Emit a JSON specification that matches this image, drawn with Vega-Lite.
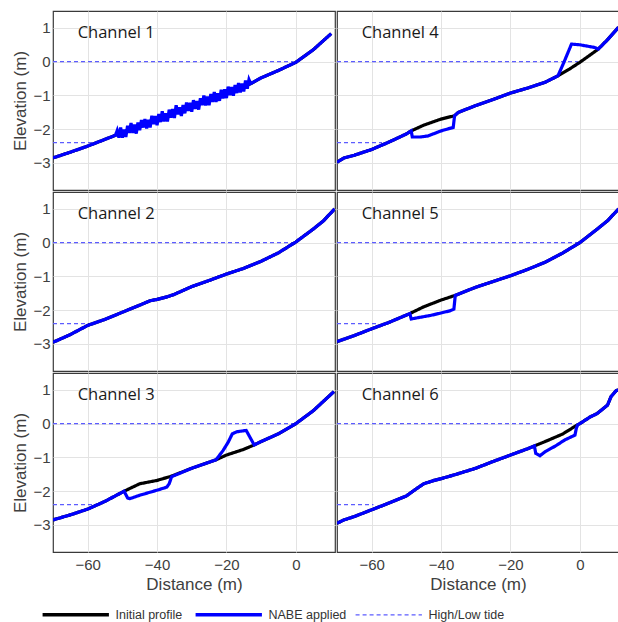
{
"$schema": "https://vega.github.io/schema/vega-lite/v6.json",
"padding": {"left": 11, "top": 10, "right": 0, "bottom": 0},
"background": "white",
"data": {"values": [
{"ch":"Channel 1","s":"Initial profile","x":-70,"y":-2.85},{"ch":"Channel 1","s":"Initial profile","x":-65,"y":-2.68},{"ch":"Channel 1","s":"Initial profile","x":-60,"y":-2.5},{"ch":"Channel 1","s":"Initial profile","x":-55,"y":-2.3},{"ch":"Channel 1","s":"Initial profile","x":-52,"y":-2.18},{"ch":"Channel 1","s":"Initial profile","x":-50,"y":-2.1},{"ch":"Channel 1","s":"Initial profile","x":-45,"y":-1.88},{"ch":"Channel 1","s":"Initial profile","x":-40,"y":-1.69},{"ch":"Channel 1","s":"Initial profile","x":-35,"y":-1.5},{"ch":"Channel 1","s":"Initial profile","x":-30,"y":-1.32},{"ch":"Channel 1","s":"Initial profile","x":-25,"y":-1.13},{"ch":"Channel 1","s":"Initial profile","x":-20,"y":-0.93},{"ch":"Channel 1","s":"Initial profile","x":-15,"y":-0.73},{"ch":"Channel 1","s":"Initial profile","x":-13,"y":-0.65},{"ch":"Channel 1","s":"Initial profile","x":-10,"y":-0.48},{"ch":"Channel 1","s":"Initial profile","x":-5,"y":-0.26},{"ch":"Channel 1","s":"Initial profile","x":0,"y":-0.02},{"ch":"Channel 1","s":"Initial profile","x":5,"y":0.35},{"ch":"Channel 1","s":"Initial profile","x":10.2,"y":0.83},
{"ch":"Channel 1","s":"NABE applied","x":-70,"y":-2.85},{"ch":"Channel 1","s":"NABE applied","x":-65,"y":-2.68},{"ch":"Channel 1","s":"NABE applied","x":-60,"y":-2.5},{"ch":"Channel 1","s":"NABE applied","x":-55,"y":-2.3},{"ch":"Channel 1","s":"NABE applied","x":-52,"y":-2.18},
{"ch":"Channel 1","s":"NABE applied","x":-51.5,"y":-2.04},{"ch":"Channel 1","s":"NABE applied","x":-51,"y":-2.25},{"ch":"Channel 1","s":"NABE applied","x":-50.5,"y":-1.95},{"ch":"Channel 1","s":"NABE applied","x":-50,"y":-2.25},{"ch":"Channel 1","s":"NABE applied","x":-49.5,"y":-2.01},{"ch":"Channel 1","s":"NABE applied","x":-49,"y":-2.23},{"ch":"Channel 1","s":"NABE applied","x":-48.5,"y":-1.9},{"ch":"Channel 1","s":"NABE applied","x":-48,"y":-2.11},{"ch":"Channel 1","s":"NABE applied","x":-47.5,"y":-1.82},{"ch":"Channel 1","s":"NABE applied","x":-47,"y":-2.11},{"ch":"Channel 1","s":"NABE applied","x":-46.5,"y":-1.86},{"ch":"Channel 1","s":"NABE applied","x":-46,"y":-2.13},{"ch":"Channel 1","s":"NABE applied","x":-45.5,"y":-1.8},{"ch":"Channel 1","s":"NABE applied","x":-45,"y":-2.03},{"ch":"Channel 1","s":"NABE applied","x":-44.5,"y":-1.73},{"ch":"Channel 1","s":"NABE applied","x":-44,"y":-1.95},{"ch":"Channel 1","s":"NABE applied","x":-43.5,"y":-1.7},{"ch":"Channel 1","s":"NABE applied","x":-43,"y":-1.98},{"ch":"Channel 1","s":"NABE applied","x":-42.5,"y":-1.72},{"ch":"Channel 1","s":"NABE applied","x":-42,"y":-1.95},{"ch":"Channel 1","s":"NABE applied","x":-41.5,"y":-1.6},{"ch":"Channel 1","s":"NABE applied","x":-41,"y":-1.85},{"ch":"Channel 1","s":"NABE applied","x":-40.5,"y":-1.61},{"ch":"Channel 1","s":"NABE applied","x":-40,"y":-1.88},{"ch":"Channel 1","s":"NABE applied","x":-39.5,"y":-1.55},{"ch":"Channel 1","s":"NABE applied","x":-39,"y":-1.79},{"ch":"Channel 1","s":"NABE applied","x":-38.5,"y":-1.47},{"ch":"Channel 1","s":"NABE applied","x":-38,"y":-1.77},{"ch":"Channel 1","s":"NABE applied","x":-37.5,"y":-1.53},{"ch":"Channel 1","s":"NABE applied","x":-37,"y":-1.77},{"ch":"Channel 1","s":"NABE applied","x":-36.5,"y":-1.42},{"ch":"Channel 1","s":"NABE applied","x":-36,"y":-1.66},{"ch":"Channel 1","s":"NABE applied","x":-35.5,"y":-1.4},{"ch":"Channel 1","s":"NABE applied","x":-35,"y":-1.67},{"ch":"Channel 1","s":"NABE applied","x":-34.5,"y":-1.29},{"ch":"Channel 1","s":"NABE applied","x":-34,"y":-1.56},{"ch":"Channel 1","s":"NABE applied","x":-33.5,"y":-1.35},{"ch":"Channel 1","s":"NABE applied","x":-33,"y":-1.61},{"ch":"Channel 1","s":"NABE applied","x":-32.5,"y":-1.28},{"ch":"Channel 1","s":"NABE applied","x":-32,"y":-1.53},{"ch":"Channel 1","s":"NABE applied","x":-31.5,"y":-1.21},{"ch":"Channel 1","s":"NABE applied","x":-31,"y":-1.46},{"ch":"Channel 1","s":"NABE applied","x":-30.5,"y":-1.22},{"ch":"Channel 1","s":"NABE applied","x":-30,"y":-1.48},{"ch":"Channel 1","s":"NABE applied","x":-29.5,"y":-1.14},{"ch":"Channel 1","s":"NABE applied","x":-29,"y":-1.4},{"ch":"Channel 1","s":"NABE applied","x":-28.5,"y":-1.17},{"ch":"Channel 1","s":"NABE applied","x":-28,"y":-1.42},{"ch":"Channel 1","s":"NABE applied","x":-27.5,"y":-1.08},{"ch":"Channel 1","s":"NABE applied","x":-27,"y":-1.29},{"ch":"Channel 1","s":"NABE applied","x":-26.5,"y":-1.0},{"ch":"Channel 1","s":"NABE applied","x":-26,"y":-1.3},{"ch":"Channel 1","s":"NABE applied","x":-25.5,"y":-1.03},{"ch":"Channel 1","s":"NABE applied","x":-25,"y":-1.29},{"ch":"Channel 1","s":"NABE applied","x":-24.5,"y":-0.96},{"ch":"Channel 1","s":"NABE applied","x":-24,"y":-1.19},{"ch":"Channel 1","s":"NABE applied","x":-23.5,"y":-0.9},{"ch":"Channel 1","s":"NABE applied","x":-23,"y":-1.19},{"ch":"Channel 1","s":"NABE applied","x":-22.5,"y":-0.94},{"ch":"Channel 1","s":"NABE applied","x":-22,"y":-1.16},{"ch":"Channel 1","s":"NABE applied","x":-21.5,"y":-0.83},{"ch":"Channel 1","s":"NABE applied","x":-21,"y":-1.09},{"ch":"Channel 1","s":"NABE applied","x":-20.5,"y":-0.82},{"ch":"Channel 1","s":"NABE applied","x":-20,"y":-1.08},{"ch":"Channel 1","s":"NABE applied","x":-19.5,"y":-0.74},{"ch":"Channel 1","s":"NABE applied","x":-19,"y":-0.99},{"ch":"Channel 1","s":"NABE applied","x":-18.5,"y":-0.75},{"ch":"Channel 1","s":"NABE applied","x":-18,"y":-1.01},{"ch":"Channel 1","s":"NABE applied","x":-17.5,"y":-0.69},{"ch":"Channel 1","s":"NABE applied","x":-17,"y":-0.93},{"ch":"Channel 1","s":"NABE applied","x":-16.5,"y":-0.63},{"ch":"Channel 1","s":"NABE applied","x":-16,"y":-0.91},{"ch":"Channel 1","s":"NABE applied","x":-15.5,"y":-0.65},{"ch":"Channel 1","s":"NABE applied","x":-15,"y":-0.88},{"ch":"Channel 1","s":"NABE applied","x":-14.5,"y":-0.56},{"ch":"Channel 1","s":"NABE applied","x":-14,"y":-0.8},{"ch":"Channel 1","s":"NABE applied","x":-13.5,"y":-0.53},
{"ch":"Channel 1","s":"NABE applied","x":-13,"y":-0.65},{"ch":"Channel 1","s":"NABE applied","x":-10,"y":-0.48},{"ch":"Channel 1","s":"NABE applied","x":-5,"y":-0.26},{"ch":"Channel 1","s":"NABE applied","x":0,"y":-0.02},{"ch":"Channel 1","s":"NABE applied","x":5,"y":0.35},{"ch":"Channel 1","s":"NABE applied","x":10.2,"y":0.83},
{"ch":"Channel 1","s":"High/Low tide","seg":"hi","x":-70,"y":0},{"ch":"Channel 1","s":"High/Low tide","seg":"hi","x":-0.8,"y":0},{"ch":"Channel 1","s":"High/Low tide","seg":"lo","x":-70,"y":-2.4},{"ch":"Channel 1","s":"High/Low tide","seg":"lo","x":-57.5,"y":-2.4},

{"ch":"Channel 2","s":"Initial profile","x":-70,"y":-2.95},{"ch":"Channel 2","s":"Initial profile","x":-68,"y":-2.86},{"ch":"Channel 2","s":"Initial profile","x":-65,"y":-2.72},{"ch":"Channel 2","s":"Initial profile","x":-60,"y":-2.45},{"ch":"Channel 2","s":"Initial profile","x":-55,"y":-2.27},{"ch":"Channel 2","s":"Initial profile","x":-50,"y":-2.06},{"ch":"Channel 2","s":"Initial profile","x":-45,"y":-1.85},{"ch":"Channel 2","s":"Initial profile","x":-42,"y":-1.72},{"ch":"Channel 2","s":"Initial profile","x":-40,"y":-1.68},{"ch":"Channel 2","s":"Initial profile","x":-37,"y":-1.6},{"ch":"Channel 2","s":"Initial profile","x":-35,"y":-1.53},{"ch":"Channel 2","s":"Initial profile","x":-30,"y":-1.3},{"ch":"Channel 2","s":"Initial profile","x":-25,"y":-1.12},{"ch":"Channel 2","s":"Initial profile","x":-20,"y":-0.93},{"ch":"Channel 2","s":"Initial profile","x":-15,"y":-0.76},{"ch":"Channel 2","s":"Initial profile","x":-10,"y":-0.55},{"ch":"Channel 2","s":"Initial profile","x":-5,"y":-0.3},{"ch":"Channel 2","s":"Initial profile","x":0,"y":0.02},{"ch":"Channel 2","s":"Initial profile","x":5,"y":0.4},{"ch":"Channel 2","s":"Initial profile","x":8,"y":0.65},{"ch":"Channel 2","s":"Initial profile","x":11.2,"y":1.0},
{"ch":"Channel 2","s":"NABE applied","x":-70,"y":-2.95},{"ch":"Channel 2","s":"NABE applied","x":-68,"y":-2.86},{"ch":"Channel 2","s":"NABE applied","x":-65,"y":-2.72},{"ch":"Channel 2","s":"NABE applied","x":-60,"y":-2.45},{"ch":"Channel 2","s":"NABE applied","x":-55,"y":-2.27},{"ch":"Channel 2","s":"NABE applied","x":-50,"y":-2.06},{"ch":"Channel 2","s":"NABE applied","x":-45,"y":-1.85},{"ch":"Channel 2","s":"NABE applied","x":-42,"y":-1.72},{"ch":"Channel 2","s":"NABE applied","x":-40,"y":-1.68},{"ch":"Channel 2","s":"NABE applied","x":-37,"y":-1.6},{"ch":"Channel 2","s":"NABE applied","x":-35,"y":-1.53},{"ch":"Channel 2","s":"NABE applied","x":-30,"y":-1.3},{"ch":"Channel 2","s":"NABE applied","x":-25,"y":-1.12},{"ch":"Channel 2","s":"NABE applied","x":-20,"y":-0.93},{"ch":"Channel 2","s":"NABE applied","x":-15,"y":-0.76},{"ch":"Channel 2","s":"NABE applied","x":-10,"y":-0.55},{"ch":"Channel 2","s":"NABE applied","x":-5,"y":-0.3},{"ch":"Channel 2","s":"NABE applied","x":0,"y":0.02},{"ch":"Channel 2","s":"NABE applied","x":5,"y":0.4},{"ch":"Channel 2","s":"NABE applied","x":8,"y":0.65},{"ch":"Channel 2","s":"NABE applied","x":11.2,"y":1.0},
{"ch":"Channel 2","s":"High/Low tide","seg":"hi","x":-70,"y":0},{"ch":"Channel 2","s":"High/Low tide","seg":"hi","x":-0.5,"y":0},{"ch":"Channel 2","s":"High/Low tide","seg":"lo","x":-70,"y":-2.4},{"ch":"Channel 2","s":"High/Low tide","seg":"lo","x":-59,"y":-2.4},

{"ch":"Channel 3","s":"Initial profile","x":-70,"y":-2.85},{"ch":"Channel 3","s":"Initial profile","x":-65,"y":-2.7},{"ch":"Channel 3","s":"Initial profile","x":-60,"y":-2.53},{"ch":"Channel 3","s":"Initial profile","x":-55,"y":-2.3},{"ch":"Channel 3","s":"Initial profile","x":-49.5,"y":-2.0},{"ch":"Channel 3","s":"Initial profile","x":-45,"y":-1.78},{"ch":"Channel 3","s":"Initial profile","x":-40,"y":-1.68},{"ch":"Channel 3","s":"Initial profile","x":-36,"y":-1.56},{"ch":"Channel 3","s":"Initial profile","x":-30,"y":-1.32},{"ch":"Channel 3","s":"Initial profile","x":-23,"y":-1.07},{"ch":"Channel 3","s":"Initial profile","x":-20,"y":-0.93},{"ch":"Channel 3","s":"Initial profile","x":-15,"y":-0.76},{"ch":"Channel 3","s":"Initial profile","x":-12,"y":-0.63},{"ch":"Channel 3","s":"Initial profile","x":-10,"y":-0.53},{"ch":"Channel 3","s":"Initial profile","x":-5,"y":-0.3},{"ch":"Channel 3","s":"Initial profile","x":0,"y":0.0},{"ch":"Channel 3","s":"Initial profile","x":5,"y":0.38},{"ch":"Channel 3","s":"Initial profile","x":11,"y":0.95},
{"ch":"Channel 3","s":"NABE applied","x":-70,"y":-2.85},{"ch":"Channel 3","s":"NABE applied","x":-65,"y":-2.7},{"ch":"Channel 3","s":"NABE applied","x":-60,"y":-2.53},{"ch":"Channel 3","s":"NABE applied","x":-55,"y":-2.3},{"ch":"Channel 3","s":"NABE applied","x":-49.5,"y":-2.0},{"ch":"Channel 3","s":"NABE applied","x":-48.5,"y":-2.2},{"ch":"Channel 3","s":"NABE applied","x":-47.8,"y":-2.22},{"ch":"Channel 3","s":"NABE applied","x":-45,"y":-2.12},{"ch":"Channel 3","s":"NABE applied","x":-40,"y":-1.97},{"ch":"Channel 3","s":"NABE applied","x":-37.2,"y":-1.88},{"ch":"Channel 3","s":"NABE applied","x":-36.5,"y":-1.78},{"ch":"Channel 3","s":"NABE applied","x":-35.8,"y":-1.57},{"ch":"Channel 3","s":"NABE applied","x":-30,"y":-1.32},{"ch":"Channel 3","s":"NABE applied","x":-23,"y":-1.07},{"ch":"Channel 3","s":"NABE applied","x":-21,"y":-0.8},{"ch":"Channel 3","s":"NABE applied","x":-19.5,"y":-0.55},{"ch":"Channel 3","s":"NABE applied","x":-18.3,"y":-0.3},{"ch":"Channel 3","s":"NABE applied","x":-17,"y":-0.24},{"ch":"Channel 3","s":"NABE applied","x":-14.3,"y":-0.2},{"ch":"Channel 3","s":"NABE applied","x":-13.5,"y":-0.35},{"ch":"Channel 3","s":"NABE applied","x":-12,"y":-0.63},{"ch":"Channel 3","s":"NABE applied","x":-10,"y":-0.53},{"ch":"Channel 3","s":"NABE applied","x":-5,"y":-0.3},{"ch":"Channel 3","s":"NABE applied","x":0,"y":0.0},{"ch":"Channel 3","s":"NABE applied","x":5,"y":0.38},{"ch":"Channel 3","s":"NABE applied","x":11,"y":0.95},
{"ch":"Channel 3","s":"High/Low tide","seg":"hi","x":-70,"y":0},{"ch":"Channel 3","s":"High/Low tide","seg":"hi","x":-0.5,"y":0},{"ch":"Channel 3","s":"High/Low tide","seg":"lo","x":-70,"y":-2.4},{"ch":"Channel 3","s":"High/Low tide","seg":"lo","x":-58.5,"y":-2.4},

{"ch":"Channel 4","s":"Initial profile","x":-70,"y":-2.98},{"ch":"Channel 4","s":"Initial profile","x":-68,"y":-2.85},{"ch":"Channel 4","s":"Initial profile","x":-65,"y":-2.77},{"ch":"Channel 4","s":"Initial profile","x":-60,"y":-2.6},{"ch":"Channel 4","s":"Initial profile","x":-55,"y":-2.38},{"ch":"Channel 4","s":"Initial profile","x":-50,"y":-2.14},{"ch":"Channel 4","s":"Initial profile","x":-48.6,"y":-2.05},{"ch":"Channel 4","s":"Initial profile","x":-45,"y":-1.88},{"ch":"Channel 4","s":"Initial profile","x":-40,"y":-1.7},{"ch":"Channel 4","s":"Initial profile","x":-36.1,"y":-1.6},{"ch":"Channel 4","s":"Initial profile","x":-35,"y":-1.5},{"ch":"Channel 4","s":"Initial profile","x":-30,"y":-1.3},{"ch":"Channel 4","s":"Initial profile","x":-25,"y":-1.12},{"ch":"Channel 4","s":"Initial profile","x":-20,"y":-0.93},{"ch":"Channel 4","s":"Initial profile","x":-15,"y":-0.78},{"ch":"Channel 4","s":"Initial profile","x":-10,"y":-0.61},{"ch":"Channel 4","s":"Initial profile","x":-6.3,"y":-0.42},{"ch":"Channel 4","s":"Initial profile","x":-3,"y":-0.22},{"ch":"Channel 4","s":"Initial profile","x":0,"y":-0.02},{"ch":"Channel 4","s":"Initial profile","x":3,"y":0.2},{"ch":"Channel 4","s":"Initial profile","x":5.3,"y":0.37},{"ch":"Channel 4","s":"Initial profile","x":8,"y":0.65},{"ch":"Channel 4","s":"Initial profile","x":11.2,"y":1.02},
{"ch":"Channel 4","s":"NABE applied","x":-70,"y":-2.98},{"ch":"Channel 4","s":"NABE applied","x":-68,"y":-2.85},{"ch":"Channel 4","s":"NABE applied","x":-65,"y":-2.77},{"ch":"Channel 4","s":"NABE applied","x":-60,"y":-2.6},{"ch":"Channel 4","s":"NABE applied","x":-55,"y":-2.38},{"ch":"Channel 4","s":"NABE applied","x":-50,"y":-2.14},{"ch":"Channel 4","s":"NABE applied","x":-48.6,"y":-2.05},{"ch":"Channel 4","s":"NABE applied","x":-48.3,"y":-2.23},{"ch":"Channel 4","s":"NABE applied","x":-46,"y":-2.23},{"ch":"Channel 4","s":"NABE applied","x":-43.8,"y":-2.2},{"ch":"Channel 4","s":"NABE applied","x":-40,"y":-2.05},{"ch":"Channel 4","s":"NABE applied","x":-38,"y":-1.99},{"ch":"Channel 4","s":"NABE applied","x":-36.5,"y":-1.95},{"ch":"Channel 4","s":"NABE applied","x":-36.1,"y":-1.6},{"ch":"Channel 4","s":"NABE applied","x":-35,"y":-1.5},{"ch":"Channel 4","s":"NABE applied","x":-30,"y":-1.3},{"ch":"Channel 4","s":"NABE applied","x":-25,"y":-1.12},{"ch":"Channel 4","s":"NABE applied","x":-20,"y":-0.93},{"ch":"Channel 4","s":"NABE applied","x":-15,"y":-0.78},{"ch":"Channel 4","s":"NABE applied","x":-10,"y":-0.61},{"ch":"Channel 4","s":"NABE applied","x":-6.3,"y":-0.42},{"ch":"Channel 4","s":"NABE applied","x":-4.5,"y":0.0},{"ch":"Channel 4","s":"NABE applied","x":-2.4,"y":0.52},{"ch":"Channel 4","s":"NABE applied","x":0,"y":0.5},{"ch":"Channel 4","s":"NABE applied","x":4.3,"y":0.42},{"ch":"Channel 4","s":"NABE applied","x":5.3,"y":0.37},{"ch":"Channel 4","s":"NABE applied","x":8,"y":0.65},{"ch":"Channel 4","s":"NABE applied","x":11.2,"y":1.02},
{"ch":"Channel 4","s":"High/Low tide","seg":"hi","x":-70,"y":0},{"ch":"Channel 4","s":"High/Low tide","seg":"hi","x":-0.5,"y":0},{"ch":"Channel 4","s":"High/Low tide","seg":"lo","x":-70,"y":-2.4},{"ch":"Channel 4","s":"High/Low tide","seg":"lo","x":-57,"y":-2.4},

{"ch":"Channel 5","s":"Initial profile","x":-70,"y":-2.93},{"ch":"Channel 5","s":"Initial profile","x":-65,"y":-2.75},{"ch":"Channel 5","s":"Initial profile","x":-60,"y":-2.55},{"ch":"Channel 5","s":"Initial profile","x":-55,"y":-2.36},{"ch":"Channel 5","s":"Initial profile","x":-49,"y":-2.1},{"ch":"Channel 5","s":"Initial profile","x":-45,"y":-1.9},{"ch":"Channel 5","s":"Initial profile","x":-40,"y":-1.7},{"ch":"Channel 5","s":"Initial profile","x":-35.9,"y":-1.56},{"ch":"Channel 5","s":"Initial profile","x":-30,"y":-1.32},{"ch":"Channel 5","s":"Initial profile","x":-25,"y":-1.15},{"ch":"Channel 5","s":"Initial profile","x":-20,"y":-0.98},{"ch":"Channel 5","s":"Initial profile","x":-15,"y":-0.79},{"ch":"Channel 5","s":"Initial profile","x":-10,"y":-0.58},{"ch":"Channel 5","s":"Initial profile","x":-5,"y":-0.31},{"ch":"Channel 5","s":"Initial profile","x":0,"y":0.0},{"ch":"Channel 5","s":"Initial profile","x":5,"y":0.4},{"ch":"Channel 5","s":"Initial profile","x":8,"y":0.65},{"ch":"Channel 5","s":"Initial profile","x":11.2,"y":1.0},
{"ch":"Channel 5","s":"NABE applied","x":-70,"y":-2.93},{"ch":"Channel 5","s":"NABE applied","x":-65,"y":-2.75},{"ch":"Channel 5","s":"NABE applied","x":-60,"y":-2.55},{"ch":"Channel 5","s":"NABE applied","x":-55,"y":-2.36},{"ch":"Channel 5","s":"NABE applied","x":-49,"y":-2.1},{"ch":"Channel 5","s":"NABE applied","x":-48.6,"y":-2.26},{"ch":"Channel 5","s":"NABE applied","x":-46.6,"y":-2.22},{"ch":"Channel 5","s":"NABE applied","x":-42.8,"y":-2.15},{"ch":"Channel 5","s":"NABE applied","x":-37.5,"y":-2.02},{"ch":"Channel 5","s":"NABE applied","x":-36.3,"y":-1.97},{"ch":"Channel 5","s":"NABE applied","x":-35.9,"y":-1.56},{"ch":"Channel 5","s":"NABE applied","x":-30,"y":-1.32},{"ch":"Channel 5","s":"NABE applied","x":-25,"y":-1.15},{"ch":"Channel 5","s":"NABE applied","x":-20,"y":-0.98},{"ch":"Channel 5","s":"NABE applied","x":-15,"y":-0.79},{"ch":"Channel 5","s":"NABE applied","x":-10,"y":-0.58},{"ch":"Channel 5","s":"NABE applied","x":-5,"y":-0.31},{"ch":"Channel 5","s":"NABE applied","x":0,"y":0.0},{"ch":"Channel 5","s":"NABE applied","x":5,"y":0.4},{"ch":"Channel 5","s":"NABE applied","x":8,"y":0.65},{"ch":"Channel 5","s":"NABE applied","x":11.2,"y":1.0},
{"ch":"Channel 5","s":"High/Low tide","seg":"hi","x":-70,"y":0},{"ch":"Channel 5","s":"High/Low tide","seg":"hi","x":-0.3,"y":0},{"ch":"Channel 5","s":"High/Low tide","seg":"lo","x":-70,"y":-2.4},{"ch":"Channel 5","s":"High/Low tide","seg":"lo","x":-58,"y":-2.4},

{"ch":"Channel 6","s":"Initial profile","x":-70,"y":-2.95},{"ch":"Channel 6","s":"Initial profile","x":-68,"y":-2.85},{"ch":"Channel 6","s":"Initial profile","x":-65,"y":-2.75},{"ch":"Channel 6","s":"Initial profile","x":-60,"y":-2.55},{"ch":"Channel 6","s":"Initial profile","x":-55,"y":-2.35},{"ch":"Channel 6","s":"Initial profile","x":-50,"y":-2.14},{"ch":"Channel 6","s":"Initial profile","x":-47,"y":-1.92},{"ch":"Channel 6","s":"Initial profile","x":-45,"y":-1.78},{"ch":"Channel 6","s":"Initial profile","x":-42,"y":-1.68},{"ch":"Channel 6","s":"Initial profile","x":-40,"y":-1.63},{"ch":"Channel 6","s":"Initial profile","x":-35,"y":-1.48},{"ch":"Channel 6","s":"Initial profile","x":-30,"y":-1.32},{"ch":"Channel 6","s":"Initial profile","x":-25,"y":-1.12},{"ch":"Channel 6","s":"Initial profile","x":-20,"y":-0.93},{"ch":"Channel 6","s":"Initial profile","x":-15,"y":-0.74},{"ch":"Channel 6","s":"Initial profile","x":-13.1,"y":-0.66},{"ch":"Channel 6","s":"Initial profile","x":-10,"y":-0.53},{"ch":"Channel 6","s":"Initial profile","x":-5,"y":-0.31},{"ch":"Channel 6","s":"Initial profile","x":-0.6,"y":-0.03},{"ch":"Channel 6","s":"Initial profile","x":0,"y":0.0},{"ch":"Channel 6","s":"Initial profile","x":3,"y":0.2},{"ch":"Channel 6","s":"Initial profile","x":5,"y":0.3},{"ch":"Channel 6","s":"Initial profile","x":8,"y":0.55},{"ch":"Channel 6","s":"Initial profile","x":9,"y":0.8},{"ch":"Channel 6","s":"Initial profile","x":10.5,"y":0.98},{"ch":"Channel 6","s":"Initial profile","x":11.2,"y":1.0},
{"ch":"Channel 6","s":"NABE applied","x":-70,"y":-2.95},{"ch":"Channel 6","s":"NABE applied","x":-68,"y":-2.85},{"ch":"Channel 6","s":"NABE applied","x":-65,"y":-2.75},{"ch":"Channel 6","s":"NABE applied","x":-60,"y":-2.55},{"ch":"Channel 6","s":"NABE applied","x":-55,"y":-2.35},{"ch":"Channel 6","s":"NABE applied","x":-50,"y":-2.14},{"ch":"Channel 6","s":"NABE applied","x":-47,"y":-1.92},{"ch":"Channel 6","s":"NABE applied","x":-45,"y":-1.78},{"ch":"Channel 6","s":"NABE applied","x":-42,"y":-1.68},{"ch":"Channel 6","s":"NABE applied","x":-40,"y":-1.63},{"ch":"Channel 6","s":"NABE applied","x":-35,"y":-1.48},{"ch":"Channel 6","s":"NABE applied","x":-30,"y":-1.32},{"ch":"Channel 6","s":"NABE applied","x":-25,"y":-1.12},{"ch":"Channel 6","s":"NABE applied","x":-20,"y":-0.93},{"ch":"Channel 6","s":"NABE applied","x":-15,"y":-0.74},{"ch":"Channel 6","s":"NABE applied","x":-13.1,"y":-0.66},{"ch":"Channel 6","s":"NABE applied","x":-12.7,"y":-0.88},{"ch":"Channel 6","s":"NABE applied","x":-11.5,"y":-0.95},{"ch":"Channel 6","s":"NABE applied","x":-10,"y":-0.83},{"ch":"Channel 6","s":"NABE applied","x":-7,"y":-0.66},{"ch":"Channel 6","s":"NABE applied","x":-4.3,"y":-0.48},{"ch":"Channel 6","s":"NABE applied","x":-1.4,"y":-0.34},{"ch":"Channel 6","s":"NABE applied","x":-1,"y":-0.14},{"ch":"Channel 6","s":"NABE applied","x":-0.6,"y":-0.03},{"ch":"Channel 6","s":"NABE applied","x":0,"y":0.0},{"ch":"Channel 6","s":"NABE applied","x":3,"y":0.2},{"ch":"Channel 6","s":"NABE applied","x":5,"y":0.3},{"ch":"Channel 6","s":"NABE applied","x":8,"y":0.55},{"ch":"Channel 6","s":"NABE applied","x":9,"y":0.8},{"ch":"Channel 6","s":"NABE applied","x":10.5,"y":0.98},{"ch":"Channel 6","s":"NABE applied","x":11.2,"y":1.0},
{"ch":"Channel 6","s":"High/Low tide","seg":"hi","x":-70,"y":0},{"ch":"Channel 6","s":"High/Low tide","seg":"hi","x":-1.4,"y":0},{"ch":"Channel 6","s":"High/Low tide","seg":"lo","x":-70,"y":-2.4},{"ch":"Channel 6","s":"High/Low tide","seg":"lo","x":-59.5,"y":-2.4}
]},
"spacing": 0,
"resolve": {"scale": {"color": "shared", "strokeDash": "shared"}, "legend": {"color": "shared", "strokeDash": "shared"}},
"vconcat": [
{"hconcat": [
 {"width": 282, "height": 179, "transform": [{"filter": "datum.ch == 'Channel 1'"}],
  "encoding": {
    "x": {"field": "x", "type": "quantitative", "scale": {"domain": [-70, 11.3], "nice": false, "zero": false}, "axis": {"values": [-60, -40, -20, 0], "labels": false, "title": null}},
    "y": {"field": "y", "type": "quantitative", "scale": {"domain": [-3.8, 1.5], "nice": false, "zero": false}, "axis": {"values": [-3, -2, -1, 0, 1], "title": "Elevation (m)"}}},
  "layer": [
    {"transform": [{"filter": "datum.s == 'High/Low tide'"}], "mark": {"type": "line", "clip": true, "strokeWidth": 1.3},
     "encoding": {"detail": {"field": "seg"},
       "color": {"field": "s", "type": "nominal", "title": null, "scale": {"domain": ["Initial profile", "NABE applied", "High/Low tide"], "range": ["#000000", "#0000ff", "#5c5cff"]},
         "legend": {"symbolSize": 4400, "encode": {"symbols": {"update": {"strokeWidth": {"signal": "datum.label == 'High/Low tide' ? 1.3 : 3.5"}}}}}},
       "strokeDash": {"field": "s", "type": "nominal", "title": null, "scale": {"domain": ["Initial profile", "NABE applied", "High/Low tide"], "range": [[1, 0], [1, 0], [4, 3]]}}}},
    {"transform": [{"filter": "datum.s == 'Initial profile'"}], "mark": {"type": "line", "clip": true, "strokeWidth": 3.2},
     "encoding": {"color": {"field": "s", "type": "nominal", "title": null}, "strokeDash": {"field": "s", "type": "nominal", "title": null}}},
    {"transform": [{"filter": "datum.s == 'NABE applied'"}], "mark": {"type": "line", "clip": true, "strokeWidth": 3.2},
     "encoding": {"color": {"field": "s", "type": "nominal", "title": null}, "strokeDash": {"field": "s", "type": "nominal", "title": null}}},
    {"transform": [{"filter": "datum.s == 'Initial profile' && datum.x == -70"}], "mark": {"type": "text", "align": "left", "baseline": "middle", "font": "Open Sans", "fontSize": 16.5, "color": "#1a1a1a"},
     "encoding": {"x": {"datum": -62.9}, "y": {"datum": 0.84}, "text": {"field": "ch"}}}
  ]},
 {"width": 282, "height": 179, "transform": [{"filter": "datum.ch == 'Channel 4'"}],
  "encoding": {
    "x": {"field": "x", "type": "quantitative", "scale": {"domain": [-70, 11.3], "nice": false, "zero": false}, "axis": {"values": [-60, -40, -20, 0], "labels": false, "title": null}},
    "y": {"field": "y", "type": "quantitative", "scale": {"domain": [-3.8, 1.5], "nice": false, "zero": false}, "axis": {"values": [-3, -2, -1, 0, 1], "labels": false, "title": null}}},
  "layer": [
    {"transform": [{"filter": "datum.s == 'High/Low tide'"}], "mark": {"type": "line", "clip": true, "strokeWidth": 1.3},
     "encoding": {"detail": {"field": "seg"}, "color": {"field": "s", "type": "nominal", "title": null}, "strokeDash": {"field": "s", "type": "nominal", "title": null}}},
    {"transform": [{"filter": "datum.s == 'Initial profile'"}], "mark": {"type": "line", "clip": true, "strokeWidth": 3.2},
     "encoding": {"color": {"field": "s", "type": "nominal", "title": null}, "strokeDash": {"field": "s", "type": "nominal", "title": null}}},
    {"transform": [{"filter": "datum.s == 'NABE applied'"}], "mark": {"type": "line", "clip": true, "strokeWidth": 3.2},
     "encoding": {"color": {"field": "s", "type": "nominal", "title": null}, "strokeDash": {"field": "s", "type": "nominal", "title": null}}},
    {"transform": [{"filter": "datum.s == 'Initial profile' && datum.x == -70"}], "mark": {"type": "text", "align": "left", "baseline": "middle", "font": "Open Sans", "fontSize": 16.5, "color": "#1a1a1a"},
     "encoding": {"x": {"datum": -62.9}, "y": {"datum": 0.84}, "text": {"field": "ch"}}}
  ]}
]},
{"hconcat": [
 {"width": 282, "height": 179, "transform": [{"filter": "datum.ch == 'Channel 2'"}],
  "encoding": {
    "x": {"field": "x", "type": "quantitative", "scale": {"domain": [-70, 11.3], "nice": false, "zero": false}, "axis": {"values": [-60, -40, -20, 0], "labels": false, "title": null}},
    "y": {"field": "y", "type": "quantitative", "scale": {"domain": [-3.8, 1.5], "nice": false, "zero": false}, "axis": {"values": [-3, -2, -1, 0, 1], "title": "Elevation (m)"}}},
  "layer": [
    {"transform": [{"filter": "datum.s == 'High/Low tide'"}], "mark": {"type": "line", "clip": true, "strokeWidth": 1.3},
     "encoding": {"detail": {"field": "seg"}, "color": {"field": "s", "type": "nominal", "title": null}, "strokeDash": {"field": "s", "type": "nominal", "title": null}}},
    {"transform": [{"filter": "datum.s == 'Initial profile'"}], "mark": {"type": "line", "clip": true, "strokeWidth": 3.2},
     "encoding": {"color": {"field": "s", "type": "nominal", "title": null}, "strokeDash": {"field": "s", "type": "nominal", "title": null}}},
    {"transform": [{"filter": "datum.s == 'NABE applied'"}], "mark": {"type": "line", "clip": true, "strokeWidth": 3.2},
     "encoding": {"color": {"field": "s", "type": "nominal", "title": null}, "strokeDash": {"field": "s", "type": "nominal", "title": null}}},
    {"transform": [{"filter": "datum.s == 'Initial profile' && datum.x == -70"}], "mark": {"type": "text", "align": "left", "baseline": "middle", "font": "Open Sans", "fontSize": 16.5, "color": "#1a1a1a"},
     "encoding": {"x": {"datum": -62.9}, "y": {"datum": 0.84}, "text": {"field": "ch"}}}
  ]},
 {"width": 282, "height": 179, "transform": [{"filter": "datum.ch == 'Channel 5'"}],
  "encoding": {
    "x": {"field": "x", "type": "quantitative", "scale": {"domain": [-70, 11.3], "nice": false, "zero": false}, "axis": {"values": [-60, -40, -20, 0], "labels": false, "title": null}},
    "y": {"field": "y", "type": "quantitative", "scale": {"domain": [-3.8, 1.5], "nice": false, "zero": false}, "axis": {"values": [-3, -2, -1, 0, 1], "labels": false, "title": null}}},
  "layer": [
    {"transform": [{"filter": "datum.s == 'High/Low tide'"}], "mark": {"type": "line", "clip": true, "strokeWidth": 1.3},
     "encoding": {"detail": {"field": "seg"}, "color": {"field": "s", "type": "nominal", "title": null}, "strokeDash": {"field": "s", "type": "nominal", "title": null}}},
    {"transform": [{"filter": "datum.s == 'Initial profile'"}], "mark": {"type": "line", "clip": true, "strokeWidth": 3.2},
     "encoding": {"color": {"field": "s", "type": "nominal", "title": null}, "strokeDash": {"field": "s", "type": "nominal", "title": null}}},
    {"transform": [{"filter": "datum.s == 'NABE applied'"}], "mark": {"type": "line", "clip": true, "strokeWidth": 3.2},
     "encoding": {"color": {"field": "s", "type": "nominal", "title": null}, "strokeDash": {"field": "s", "type": "nominal", "title": null}}},
    {"transform": [{"filter": "datum.s == 'Initial profile' && datum.x == -70"}], "mark": {"type": "text", "align": "left", "baseline": "middle", "font": "Open Sans", "fontSize": 16.5, "color": "#1a1a1a"},
     "encoding": {"x": {"datum": -62.9}, "y": {"datum": 0.84}, "text": {"field": "ch"}}}
  ]}
]},
{"hconcat": [
 {"width": 282, "height": 179, "transform": [{"filter": "datum.ch == 'Channel 3'"}],
  "encoding": {
    "x": {"field": "x", "type": "quantitative", "scale": {"domain": [-70, 11.3], "nice": false, "zero": false}, "axis": {"values": [-60, -40, -20, 0], "title": "Distance (m)"}},
    "y": {"field": "y", "type": "quantitative", "scale": {"domain": [-3.8, 1.5], "nice": false, "zero": false}, "axis": {"values": [-3, -2, -1, 0, 1], "title": "Elevation (m)"}}},
  "layer": [
    {"transform": [{"filter": "datum.s == 'High/Low tide'"}], "mark": {"type": "line", "clip": true, "strokeWidth": 1.3},
     "encoding": {"detail": {"field": "seg"}, "color": {"field": "s", "type": "nominal", "title": null}, "strokeDash": {"field": "s", "type": "nominal", "title": null}}},
    {"transform": [{"filter": "datum.s == 'Initial profile'"}], "mark": {"type": "line", "clip": true, "strokeWidth": 3.2},
     "encoding": {"color": {"field": "s", "type": "nominal", "title": null}, "strokeDash": {"field": "s", "type": "nominal", "title": null}}},
    {"transform": [{"filter": "datum.s == 'NABE applied'"}], "mark": {"type": "line", "clip": true, "strokeWidth": 3.2},
     "encoding": {"color": {"field": "s", "type": "nominal", "title": null}, "strokeDash": {"field": "s", "type": "nominal", "title": null}}},
    {"transform": [{"filter": "datum.s == 'Initial profile' && datum.x == -70"}], "mark": {"type": "text", "align": "left", "baseline": "middle", "font": "Open Sans", "fontSize": 16.5, "color": "#1a1a1a"},
     "encoding": {"x": {"datum": -62.9}, "y": {"datum": 0.84}, "text": {"field": "ch"}}}
  ]},
 {"width": 282, "height": 179, "transform": [{"filter": "datum.ch == 'Channel 6'"}],
  "encoding": {
    "x": {"field": "x", "type": "quantitative", "scale": {"domain": [-70, 11.3], "nice": false, "zero": false}, "axis": {"values": [-60, -40, -20, 0], "title": "Distance (m)"}},
    "y": {"field": "y", "type": "quantitative", "scale": {"domain": [-3.8, 1.5], "nice": false, "zero": false}, "axis": {"values": [-3, -2, -1, 0, 1], "labels": false, "title": null}}},
  "layer": [
    {"transform": [{"filter": "datum.s == 'High/Low tide'"}], "mark": {"type": "line", "clip": true, "strokeWidth": 1.3},
     "encoding": {"detail": {"field": "seg"}, "color": {"field": "s", "type": "nominal", "title": null}, "strokeDash": {"field": "s", "type": "nominal", "title": null}}},
    {"transform": [{"filter": "datum.s == 'Initial profile'"}], "mark": {"type": "line", "clip": true, "strokeWidth": 3.2},
     "encoding": {"color": {"field": "s", "type": "nominal", "title": null}, "strokeDash": {"field": "s", "type": "nominal", "title": null}}},
    {"transform": [{"filter": "datum.s == 'NABE applied'"}], "mark": {"type": "line", "clip": true, "strokeWidth": 3.2},
     "encoding": {"color": {"field": "s", "type": "nominal", "title": null}, "strokeDash": {"field": "s", "type": "nominal", "title": null}}},
    {"transform": [{"filter": "datum.s == 'Initial profile' && datum.x == -70"}], "mark": {"type": "text", "align": "left", "baseline": "middle", "font": "Open Sans", "fontSize": 16.5, "color": "#1a1a1a"},
     "encoding": {"x": {"datum": -62.9}, "y": {"datum": 0.84}, "text": {"field": "ch"}}}
  ]}
]}
],
"config": {
  "view": {"stroke": "#3a3a3a", "strokeWidth": 1.2},
  "concat": {"spacing": 0},
  "axis": {"grid": true, "gridColor": "#e3e3e3", "domain": false, "ticks": false, "labelFont": "Liberation Sans", "labelFontSize": 15, "labelColor": "#404040", "titleFont": "Liberation Sans", "titleFontSize": 17, "titleColor": "#404040", "titleFontWeight": "normal", "labelPadding": 3, "titlePadding": 3},
  "axisX": {"labelPadding": 5, "titlePadding": 4},
  "legend": {"orient": "none", "legendX": 16.5, "legendY": 597, "direction": "horizontal", "columns": 3, "symbolType": "stroke", "symbolSize": 4400, "labelFont": "Liberation Sans", "labelFontSize": 12.5, "labelColor": "#333333", "columnPadding": 6, "labelOffset": 33.5, "title": null}
}
}
